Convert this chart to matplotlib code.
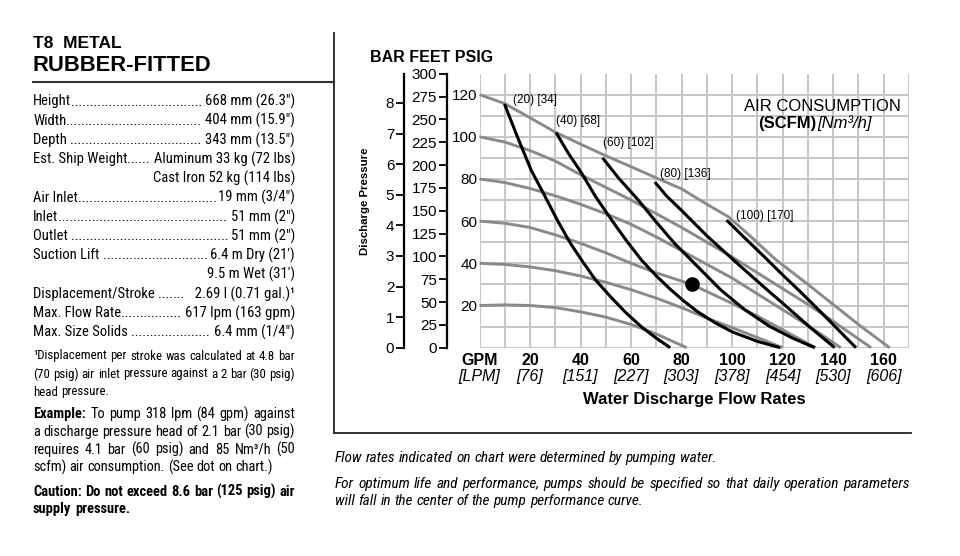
import os
import matplotlib
matplotlib.use("Agg")
import matplotlib.pyplot as plt
from matplotlib import font_manager as fm
from matplotlib.lines import Line2D

plt.rcParams['font.family'] = ['Liberation Sans', 'DejaVu Sans']

W, H = 960, 556

# ---- pump curves (water discharge GPM vs discharge pressure PSIG) ----
# gray: air inlet pressure curves
air20_gpm = [0, 10, 20, 30, 40, 50, 60, 70, 82]
air20_psig = [20, 20.3, 20, 19, 17, 14.5, 11, 6.5, 0]
air40_gpm = [0, 10, 20, 30, 40, 50, 60, 70, 80, 90, 100, 110, 120]
air40_psig = [40, 39.5, 38.3, 36.5, 34, 31, 27.5, 23.5, 19, 14, 9.5, 4.8, 0]
air60_gpm = [0, 10, 20, 30, 40, 50, 60, 70, 84, 100, 110, 120, 133]
air60_psig = [60, 59, 57, 53.5, 49.5, 45, 40, 35.5, 30, 21, 15, 8.5, 0]
air80_gpm = [0, 10, 20, 30, 40, 50, 60, 70, 80, 90, 100, 110, 120, 130, 143]
air80_psig = [80, 78.3, 75.5, 72, 68, 63.5, 58.5, 52.5, 46, 39.5, 33, 25.5, 18, 10.5, 0]
air100_gpm = [0, 10, 20, 30, 40, 50, 60, 70, 80, 90, 100, 110, 120, 130, 140, 155]
air100_psig = [100, 97.5, 93.5, 88.5, 82, 76, 70, 63.5, 57, 50, 43, 35.5, 28, 20.5, 12.5, 0]
air120_gpm = [0, 10, 20, 30, 40, 50, 60, 70, 80, 90, 98.6, 108, 117, 130, 140, 150, 162.3]
air120_psig = [120, 115.7, 109, 102.2, 96.5, 91, 85.8, 80.5, 75.3, 68, 62, 52, 42, 30, 20.5, 11, 0]

# black: air consumption curves
scfm20_gpm = [9.9, 15, 20.4, 26.3, 31, 36, 41, 46, 52, 58, 64, 70, 75.5]
scfm20_psig = [115.5, 100, 84.3, 70.9, 60, 49.5, 40.5, 32, 24, 16.5, 10, 4.5, 0]
scfm40_gpm = [30.3, 35, 40.4, 46, 52.2, 58, 64, 70, 75.8, 81, 86.4, 93, 100, 110, 119]
scfm40_psig = [102, 92.5, 82.8, 71.5, 60.7, 51, 41.7, 34, 27.4, 22, 17, 12, 7.5, 3, 0]
scfm60_gpm = [48.7, 55, 62.7, 70, 77.1, 86.3, 95.5, 105, 115, 124, 132.7]
scfm60_psig = [90, 80.5, 70.2, 59.5, 49.6, 38.5, 27.4, 18, 10, 4.5, 0]
scfm80_gpm = [69.4, 74, 79.7, 90.2, 103.4, 113.9, 122, 131, 140.6]
scfm80_psig = [78.5, 72, 65.4, 52.8, 38.5, 27.4, 19, 9.5, 0]
scfm100_gpm = [97.8, 105, 112.4, 120, 127, 135, 142, 149]
scfm100_psig = [60.5, 52, 43.5, 34.5, 26.5, 17, 8.5, 0]

scfm_values = [20, 40, 60, 80, 100]
nm3h_values = [34, 68, 102, 136, 170]

example_gpm = 84
example_psig = 30

gpm_ticks = [0, 20, 40, 60, 80, 100, 120, 140, 160]
gpm_labels = ['GPM', '20', '40', '60', '80', '100', '120', '140', '160']
lpm_labels = ['[LPM]', '[76]', '[151]', '[227]', '[303]', '[378]', '[454]', '[530]', '[606]']
psig_ticks = [20, 40, 60, 80, 100, 120]
feet_ticks = list(range(0, 301, 25))
bar_ticks = list(range(0, 9))

# ---- spec sheet text ----
spec_labels = ['Height', 'Width', 'Depth ', 'Est. Ship Weight', '', 'Air Inlet', 'Inlet',
               'Outlet ', 'Suction Lift ', '', 'Displacement/Stroke ', 'Max. Flow Rate',
               'Max. Size Solids ']
spec_values = ['668 mm (26.3")', '404 mm (15.9")', '343 mm (13.5")', 'Aluminum 33 kg (72 lbs)',
               'Cast Iron 52 kg (114 lbs)', '19 mm (3/4")', '51 mm (2")', '51 mm (2")',
               "6.4 m Dry (21')", "9.5 m Wet (31')", '  2.69 l (0.71 gal.)¹',
               '617 lpm (163 gpm)', '6.4 mm (1/4")']
footnote_lines = ['¹Displacement per stroke was calculated at 4.8 bar',
                  '(70 psig) air inlet pressure against a 2 bar (30 psig)',
                  'head pressure.']
example_lines = ['To pump 318 lpm (84 gpm) against',
                 'a discharge pressure head of 2.1 bar (30 psig)',
                 'requires 4.1 bar (60 psig) and 85 Nm³/h (50',
                 'scfm) air consumption. (See dot on chart.)']
caution_lines = ['Caution: Do not exceed 8.6 bar (125 psig) air',
                 'supply pressure.']
note_lines = ['Flow rates indicated on chart were determined by pumping water.',
              'For optimum life and performance, pumps should be specified so that daily operation parameters',
              'will fall in the center of the pump performance curve.']

gray_c = '#8a8a8a'
grid_c = '#c6c6c6'


def pick_narrow(bold=False, italic=False):
    prefs = ['liberation', 'roboto', 'noto', 'open', 'lato', 'dejavu']
    best, best_key = None, None
    for f in fm.fontManager.ttflist:
        key = (f.name + ' ' + os.path.basename(f.fname)).lower()
        narrowish = ('narrow' in key or 'condensed' in key
                     or f.stretch in ('condensed', 'semi-condensed', 'extra-condensed'))
        if not narrowish or 'mono' in key or 'cjk' in key:
            continue
        if italic != (f.style in ('italic', 'oblique')):
            continue
        w = f.weight if isinstance(f.weight, (int, float)) else (700 if 'bold' in str(f.weight) else 400)
        rank = next((i for i, p in enumerate(prefs) if p in key), len(prefs))
        semi = 1 if ('semi' in key or 'extra' in key or 'ultra' in key) else 0
        k = (rank, semi, abs(w - (700 if bold else 400)))
        if best_key is None or k < best_key:
            best, best_key = f, k
    if best is not None and best_key[2] <= 150:
        return fm.FontProperties(fname=best.fname)
    return fm.FontProperties(family='Liberation Sans', weight='bold' if bold else 'normal',
                             style='italic' if italic else 'normal')


f_reg = pick_narrow()
f_bold = pick_narrow(bold=True)
f_ital = pick_narrow(italic=True)


def sized(p, s):
    q = p.copy()
    q.set_size(s)
    return q


fig = plt.figure(figsize=(W / 100, H / 100), dpi=100)
renderer = fig.canvas.get_renderer()


def fx(x):
    return x / W


def fy(y):
    return 1 - y / H


def put(x, y, s, **kw):
    return fig.text(fx(x), fy(y), s, va='center', **kw)


def wpx(t):
    return t.get_window_extent(renderer).width


def text_w(s, prop):
    t = put(0, -100, s, fontproperties=prop)
    w = wpx(t)
    t.remove()
    return w


def fit_size(strings_props, start, maxw):
    # largest size (from start) at which every line fits in maxw
    s = start
    while s > 6:
        if all(text_w(st, sized(p, s)) <= maxw for st, p in strings_props):
            return s
        s -= 0.25
    return s


def place_words(x, y, words, right=None):
    # words: list of (text, prop); justified to right when given
    widths = [text_w(w, p) for w, p in words]
    p0 = words[-1][1]
    space = text_w('a a', p0) - text_w('aa', p0)
    gap = space
    if right is not None and len(words) > 1:
        gap = (right - x - sum(widths)) / (len(words) - 1)
    xc = x
    for (w, p), wd in zip(words, widths):
        put(xc, y, w, ha='left', fontproperties=p)
        xc += wd + gap


# ---- chart axes ----
y_top, y_bot = 73.5, 347.7
ax = fig.add_axes([fx(479.5), fy(y_bot), fx(909) - fx(479.5), fy(y_top) - fy(y_bot)])
ax.set_xlim(0, 170)
ax.set_ylim(0, 130)
for g in range(0, 171, 10):
    ax.axvline(g, color=grid_c, lw=1.4, zorder=0)
for p in range(0, 131, 10):
    ax.axhline(p, color=grid_c, lw=1.4, zorder=0)
for s in ax.spines.values():
    s.set_visible(False)
ax.set_xticks([])
ax.set_yticks(psig_ticks)
ax.set_yticklabels([str(v) for v in psig_ticks], fontsize=11)
ax.tick_params(axis='y', length=0, pad=1.5)

grays = [(air20_gpm, air20_psig), (air40_gpm, air40_psig), (air60_gpm, air60_psig),
         (air80_gpm, air80_psig), (air100_gpm, air100_psig), (air120_gpm, air120_psig)]
for gx, gy in grays:
    ax.plot(gx, gy, color=gray_c, lw=2.1, solid_capstyle='butt', zorder=2, clip_on=False)

blacks = [(scfm20_gpm, scfm20_psig), (scfm40_gpm, scfm40_psig), (scfm60_gpm, scfm60_psig),
          (scfm80_gpm, scfm80_psig), (scfm100_gpm, scfm100_psig)]
label_offsets = [(6, 3), (0, 8.5), (0, 11), (3.5, 6), (6.5, 3)]
for (bx, by), sc, nm, off in zip(blacks, scfm_values, nm3h_values, label_offsets):
    ax.plot(bx, by, color='black', lw=2.2, solid_capstyle='butt', zorder=3, clip_on=False)
    ax.annotate(f'({sc}) [{nm}]', xy=(bx[0], by[0]), xytext=off, textcoords='offset points',
                ha='left', va='center', fontsize=8.5)

ax.plot([example_gpm], [example_psig], 'o', color='black', markersize=9.5, zorder=4)

for g, lab, lpm in zip(gpm_ticks, gpm_labels, lpm_labels):
    ax.annotate(lab, xy=(g, 0), xycoords=('data', 'axes fraction'), xytext=(0, -9.5),
                textcoords='offset points', ha='center', va='center', fontsize=11.5,
                fontweight='bold')
    ax.annotate(lpm, xy=(g, 0), xycoords=('data', 'axes fraction'), xytext=(0, -21),
                textcoords='offset points', ha='center', va='center', fontsize=11.5,
                fontstyle='italic')
ax.annotate('Water Discharge Flow Rates', xy=(0.5, 0), xycoords='axes fraction',
            xytext=(0, -37.5), textcoords='offset points', ha='center', va='center',
            fontsize=12, fontweight='bold')

put(901, 106.5, 'AIR CONSUMPTION', ha='right', fontsize=12)
put(816, 123.5, '(SCFM)', ha='right', fontsize=12, fontweight='bold')
put(817, 123.5, '[Nm³/h]', ha='left', fontsize=12, fontstyle='italic')

# feet and bar scales
for xpos, top, ticks in [(446.7, 130 * 2.31, feet_ticks), (404, 130 / 14.5038, bar_ticks)]:
    sa = fig.add_axes([fx(xpos), fy(y_bot), 0.0001, fy(y_top) - fy(y_bot)])
    sa.set_ylim(0, top)
    sa.set_yticks(ticks)
    sa.set_yticklabels([str(t) for t in ticks], fontsize=11)
    sa.set_xticks([])
    for k in ['top', 'right', 'bottom']:
        sa.spines[k].set_visible(False)
    sa.spines['left'].set_linewidth(1.6)
    sa.tick_params(axis='y', direction='out', length=6, width=1.3, pad=1)
    sa.patch.set_visible(False)

put(370, 58, 'BAR FEET PSIG', ha='left', fontsize=11.5, fontweight='bold')
put(365, 201, 'Discharge Pressure', ha='center', rotation=90, fontsize=8.2, fontweight='bold')

# ---- frame lines ----
fig.add_artist(Line2D([fx(333.5), fx(333.5)], [fy(33), fy(433)], color='#222222', lw=1.3))
fig.add_artist(Line2D([fx(333.5), fx(911)], [fy(433), fy(433)], color='#222222', lw=1.3))
fig.add_artist(Line2D([fx(33), fx(333.5)], [fy(81.5), fy(81.5)], color='#333333', lw=1.5))

# ---- left spec panel ----
put(33, 43.5, 'T8  METAL', ha='left', fontsize=12.5, fontweight='bold')
put(33, 65.5, 'RUBBER-FITTED', ha='left', fontsize=15.8, fontweight='bold')

x_left, x_right = 33, 295
panel_w = x_right - x_left

s_spec = fit_size([(lab + '......' + val, f_reg) for lab, val in zip(spec_labels, spec_values)],
                  11.5, panel_w)
p_spec = sized(f_reg, s_spec)
dot_w = text_w('..', p_spec) - text_w('.', p_spec)
for i, (lab, val) in enumerate(zip(spec_labels, spec_values)):
    y = 101.5 + i * 19.25
    tv = put(x_right, y, val, ha='right', fontproperties=p_spec)
    if lab:
        tl = put(x_left, y, lab, ha='left', fontproperties=p_spec)
        x0 = x_left + wpx(tl)
        x1 = x_right - wpx(tv)
        n = max(int((x1 - x0 - 1) / dot_w), 1)
        put(x0, y, '.' * n, ha='left', fontproperties=p_spec)

s_foot = fit_size([(ln, f_reg) for ln in footnote_lines], 11, panel_w)
p_foot = sized(f_reg, s_foot)
for i, line in enumerate(footnote_lines):
    words = [(w, p_foot) for w in line.split()]
    place_words(x_left, 356 + i * 18, words, right=x_right if i < len(footnote_lines) - 1 else None)

s_ex = fit_size([('Example: ' + example_lines[0], f_bold)] + [(ln, f_reg) for ln in example_lines],
                11.4, panel_w)
p_ex = sized(f_reg, s_ex)
p_exb = sized(f_bold, s_ex)
for i, line in enumerate(example_lines):
    words = [(w, p_ex) for w in line.split()]
    if i == 0:
        words = [('Example:', p_exb)] + words
    place_words(x_left, 414 + i * 17.8, words, right=x_right if i < len(example_lines) - 1 else None)

s_ca = fit_size([(ln, f_bold) for ln in caution_lines], 11.2, panel_w)
p_ca = sized(f_bold, s_ca)
for i, line in enumerate(caution_lines):
    words = [(w, p_ca) for w in line.split()]
    place_words(x_left, 491.5 + i * 18, words, right=x_right if i == 0 else None)

s_note = fit_size([(ln, f_ital) for ln in note_lines], 11, 910 - 335)
p_note = sized(f_ital, s_note)
for i, (y, line) in enumerate(zip([458, 484, 501], note_lines)):
    words = [(w, p_note) for w in line.split()]
    place_words(335, y, words, right=910 if i == 1 else None)

fig.savefig('out.png', dpi=100)
